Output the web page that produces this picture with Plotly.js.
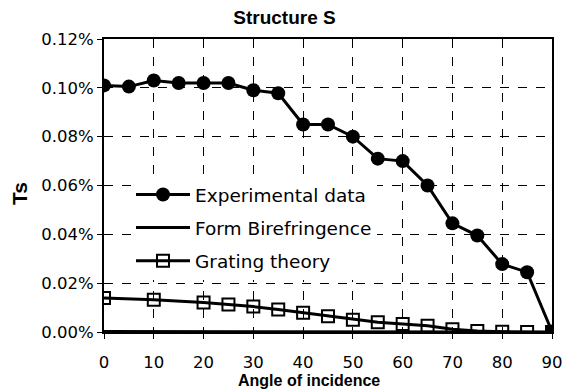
<!DOCTYPE html>
<html><head><meta charset="utf-8">
<script src="https://cdn.plot.ly/plotly-3.0.1.min.js"></script>
<style>html,body{margin:0;padding:0;background:#fff}</style>
</head><body>
<div id="chart" style="width:569px;height:391px"></div>
<script>
const expAngles = [0,5,10,15,20,25,30,35,40,45,50,55,60,65,70,75,80,85,90];
const expValues = [0.101,0.1005,0.103,0.102,0.102,0.102,0.099,0.0978,0.085,0.085,0.080,0.071,0.070,0.060,0.0445,0.0395,0.0278,0.0245,0.0002];
const formAngles = [0,5,10,15,20,25,30,35,40,45,50,55,60,65,70,75,80,85,90];
const formValues = [0.0002,0.0002,0.0002,0.0002,0.0002,0.0002,0.0002,0.0002,0.0002,0.0002,0.0002,0.0002,0.0002,0.0002,0.0002,0.0002,0.0002,0.0001,0.0];
const gratAngles = [0,10,20,25,30,35,40,45,50,55,60,65,70,75,80,85,90];
const gratValues = [0.0139,0.0132,0.0121,0.0113,0.0104,0.0092,0.0079,0.0064,0.0050,0.0040,0.0033,0.0026,0.0011,0.0004,0.0001,0.0,0.0];
const xTicks = [0,10,20,30,40,50,60,70,80,90];
const yTicks = [0,0.02,0.04,0.06,0.08,0.10,0.12];
const yTickText = yTicks.map(v => v.toFixed(2) + '%');

const traces = [
  {x: gratAngles, y: gratValues, name: 'Grating theory', mode: 'lines+markers', legendgroup:'c', legendrank:3,
   line:{color:'#000', width:3}, marker:{symbol:'square-open', size:12, color:'#000', line:{width:2, color:'#000'}}},
  {x: formAngles, y: formValues, name: 'Form Birefringence', mode: 'lines', legendgroup:'b', legendrank:2,
   line:{color:'#000', width:3}},
  {x: expAngles, y: expValues, name: 'Experimental data', mode: 'lines+markers', legendgroup:'a', legendrank:1,
   line:{color:'#000', width:3}, marker:{symbol:'circle', size:14, color:'#000'}}
];
const sans = 'DejaVu Sans, sans-serif';
const arial = 'Liberation Sans, Arial, sans-serif';
const layout = {
  width:569, height:391,
  margin:{l:104, r:17, t:39, b:59},
  paper_bgcolor:'#fff', plot_bgcolor:'#fff',
  font:{family:sans, color:'#000'},
  title:{text:'<b>Structure S</b>', x:0.5, xanchor:'center', y:1-17/391, yanchor:'middle', font:{size:19, family:arial}},
  xaxis:{range:[0,90], tickvals:xTicks, ticks:'outside', ticklen:5, tickcolor:'#000', ticklabelstandoff:9,
    showgrid:true, gridcolor:'#000', griddash:'dash', gridwidth:1,
    showline:true, linecolor:'#000', linewidth:2, mirror:true, zeroline:false,
    tickfont:{size:16.5}},
  yaxis:{range:[0,0.12], tickvals:yTicks, ticktext:yTickText, ticks:'outside', ticklen:5, tickcolor:'#000',
    showgrid:true, gridcolor:'#000', griddash:'dash', gridwidth:1,
    showline:true, linecolor:'#000', linewidth:2, mirror:true, zeroline:false,
    tickfont:{size:16.5}},
  annotations:[
    {text:'<b>Angle of incidence</b>', xref:'paper', yref:'paper', x:(309-104)/448, y:(332-380)/293,
     xanchor:'center', yanchor:'middle', showarrow:false, font:{size:16, family:arial}},
    {text:'<b>Ts</b>', xref:'paper', yref:'paper', x:(19-104)/448, y:(332-194)/293, textangle:-90,
     xanchor:'center', yanchor:'middle', showarrow:false, font:{size:21, family:arial}}
  ],
  showlegend:true,
  legend:{x:(131-104)/448, y:(332-176)/293, xanchor:'left', yanchor:'top', bgcolor:'#fff', borderwidth:0,
    font:{size:18.5}, itemwidth:54, tracegroupgap:6, traceorder:'grouped'}
};
Plotly.newPlot('chart', traces, layout, {displayModeBar:false, staticPlot:true});
</script>
</body></html>
